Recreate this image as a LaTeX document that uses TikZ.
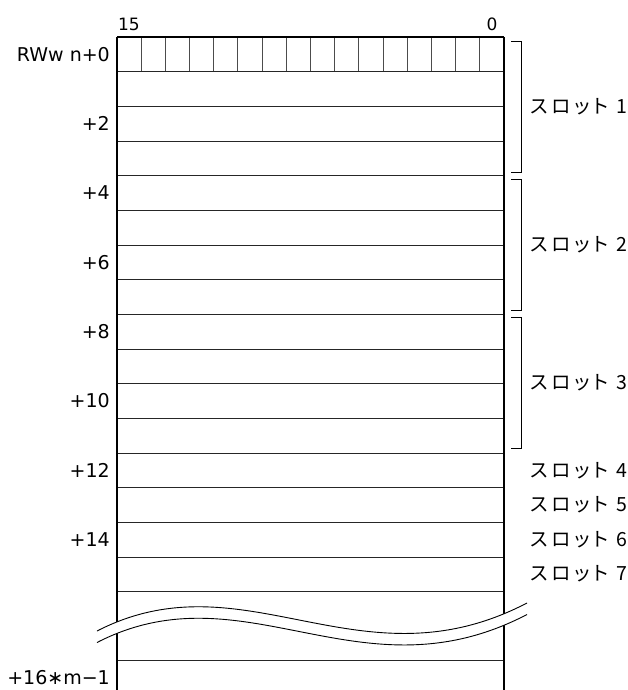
\documentclass[tikz,border=0pt]{standalone}
\usepackage{fontspec}
\setmainfont{DejaVu Sans}
\newfontfamily\cjk[RawFeature=+palt]{Noto Sans CJK JP}
\newcommand{\slotlabel}[1]{{\cjk ス\hspace{4pt}ロ\hspace{4pt}ッ\hspace{3pt}ト\hspace{8pt}#1}}
\begin{document}
\begin{tikzpicture}[x=1pt,y=-1pt,
  outer/.style={line width=1.8pt,black},
  rowline/.style={line width=0.9pt,black!85},
  bitline/.style={line width=0.9pt,black!70},
  brace/.style={line width=0.9pt,black},
  wave/.style={line width=0.9pt,black},
  lbl/.style={anchor=east,font=\fontsize{19}{19}\selectfont,inner sep=0pt},
  toplbl/.style={font=\fontsize{17}{17}\selectfont,inner sep=0pt},
  slbl/.style={anchor=west,font=\fontsize{19.5}{19.5}\selectfont,inner sep=0pt}]
\useasboundingbox (0,0) rectangle (627,690);
% coordinates of the table
\coordinate (TL) at (117,37);
\coordinate (TR) at (504,37);
\coordinate (BL) at (117,690);
\coordinate (BR) at (504,690);
% bit dividers
\foreach \k in {1,...,15}{
  \draw[bitline] ({117+\k*24.1875},37) -- ({117+\k*24.1875},71.7);
}
% row lines
\foreach \r in {1,...,16}{
  \draw[rowline] (117,{37+\r*34.67}) -- (504,{37+\r*34.67});
}
\draw[rowline] (117,660) -- (504,660);
% outer lines
\draw[outer] (TL) -- (TR);
\draw[outer] (TL) -- (BL);
\draw[outer] (TR) -- (BR);
% wave break
\coordinate (w1s) at (97,631);
\coordinate (w1e) at (527,603);
\coordinate (w2s) at (97,642.5);
\coordinate (w2e) at (527,614.5);
\fill[white] (w1s) .. controls (245,555) and (360,690) .. (w1e)
  -- (w2e) .. controls (360,701.5) and (245,566.5) .. (w2s) -- cycle;
\draw[wave] (w1s) .. controls (245,555) and (360,690) .. (w1e);
\draw[wave] (w2s) .. controls (245,566.5) and (360,701.5) .. (w2e);
% top labels
\node[toplbl] (b15) at (129,24) {15};
\node[toplbl] (b0) at (492,24) {0};
% left labels
\node[lbl] (l0) at (110,54.3) {RWw n+0};
\node[lbl] (l2) at (110,123.7) {+2};
\node[lbl] (l4) at (110,193) {+4};
\node[lbl] (l6) at (110,262.3) {+6};
\node[lbl] (l8) at (110,331.7) {+8};
\node[lbl] (l10) at (110,401) {+10};
\node[lbl] (l12) at (110,470.4) {+12};
\node[lbl] (l14) at (110,539.7) {+14};
\node[lbl] (lm) at (110,678) {+16∗m−1};
% brackets
\foreach \a/\b in {41/172,179/310,317/448}{
  \draw[brace] (511,\a) -- (521,\a) -- (521,\b) -- (511,\b);
}
% slot labels
\node[slbl] (s1) at (530,107) {\slotlabel{1}};
\node[slbl] (s2) at (530,245) {\slotlabel{2}};
\node[slbl] (s3) at (530,383) {\slotlabel{3}};
\node[slbl] (s4) at (530,471) {\slotlabel{4}};
\node[slbl] (s5) at (530,505) {\slotlabel{5}};
\node[slbl] (s6) at (530,540) {\slotlabel{6}};
\node[slbl] (s7) at (530,574) {\slotlabel{7}};
\end{tikzpicture}
\end{document}
